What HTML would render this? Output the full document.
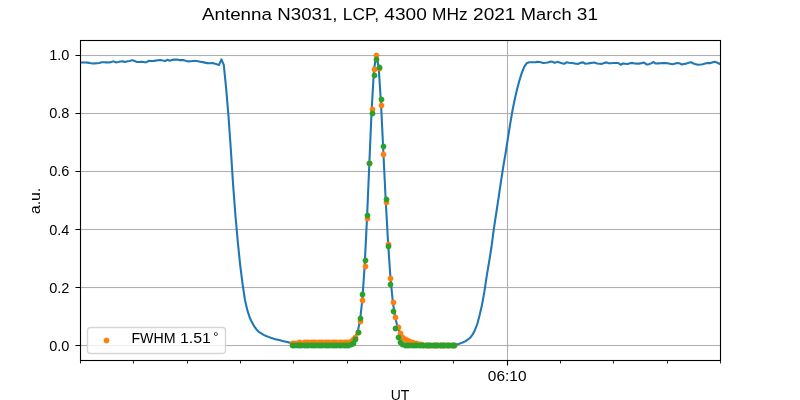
<!DOCTYPE html>
<html><head><meta charset="utf-8"><title>Antenna N3031</title>
<style>html,body{margin:0;padding:0;background:#fff;overflow:hidden}body{width:800px;height:400px}</style></head>
<body>
<svg width="800" height="400" viewBox="0 0 800 400" style="display:block;font-family:'Liberation Sans',sans-serif">
<defs><clipPath id="ax"><rect x="80" y="40" width="640" height="320"/></clipPath><polygon id="d" points="2.90,0.00 2.84,0.57 2.68,1.11 2.41,1.61 2.05,2.05 1.61,2.41 1.11,2.68 0.57,2.84 0.00,2.90 -0.57,2.84 -1.11,2.68 -1.61,2.41 -2.05,2.05 -2.41,1.61 -2.68,1.11 -2.84,0.57 -2.90,0.00 -2.84,-0.57 -2.68,-1.11 -2.41,-1.61 -2.05,-2.05 -1.61,-2.41 -1.11,-2.68 -0.57,-2.84 -0.00,-2.90 0.57,-2.84 1.11,-2.68 1.61,-2.41 2.05,-2.05 2.41,-1.61 2.68,-1.11 2.84,-0.57"/></defs>
<rect width="800" height="400" fill="#fff"/>
<g fill="#b0b0b0">
<rect x="506.9445" y="40" width="1.111" height="320"/>
<rect x="80" y="54.9445" width="640" height="1.111"/>
<rect x="80" y="112.9445" width="640" height="1.111"/>
<rect x="80" y="170.9445" width="640" height="1.111"/>
<rect x="80" y="228.9445" width="640" height="1.111"/>
<rect x="80" y="286.9445" width="640" height="1.111"/>
<rect x="80" y="344.9445" width="640" height="1.111"/>
</g>
<g clip-path="url(#ax)">
<polyline fill="none" stroke="#1f77b4" stroke-width="2.083" stroke-linejoin="round" stroke-linecap="butt" points="78.20,62.56 80.55,62.51 82.90,62.50 85.25,62.50 87.59,62.62 89.94,63.09 92.29,63.48 94.64,63.34 96.99,63.19 99.33,63.04 101.68,62.33 104.03,62.28 106.38,62.36 108.73,62.45 111.07,62.13 113.42,61.33 115.77,62.39 118.12,62.04 120.47,61.53 122.81,61.39 125.16,61.92 127.51,61.20 129.86,61.00 132.21,60.12 134.55,60.90 136.90,61.94 139.25,62.01 141.60,61.74 143.95,62.09 146.29,62.31 148.64,60.83 150.99,61.08 153.34,60.94 155.69,60.61 158.03,60.28 160.38,60.08 162.73,60.55 165.08,60.96 167.43,59.84 169.77,60.71 172.12,59.87 174.47,59.61 176.82,59.51 179.17,60.11 181.51,60.10 183.86,60.14 186.21,61.02 188.56,61.40 190.91,61.18 193.25,60.96 195.60,60.91 197.95,61.32 200.30,61.73 202.65,62.14 204.99,62.64 207.34,63.16 209.69,63.17 212.04,63.01 214.39,63.60 216.73,64.21 219.08,64.88 221.43,59.40 223.78,64.94 226.13,88.07 228.47,115.97 230.82,149.22 233.17,185.68 235.52,216.48 237.87,242.66 240.21,265.44 242.56,283.97 244.91,299.71 247.26,309.86 249.61,317.20 251.95,322.33 254.30,326.43 256.65,329.69 259.00,332.05 261.35,333.44 263.69,334.83 266.04,335.99 268.39,336.87 270.74,337.74 273.09,338.55 275.43,339.14 277.78,339.73 280.13,340.32 282.48,340.90 284.83,341.48 287.17,342.06 289.52,342.63 291.87,343.00 294.22,343.00 296.57,343.00 298.91,342.00 301.26,343.00 303.61,342.00 305.96,342.00 308.31,342.00 310.65,342.00 313.00,342.00 315.35,342.00 317.70,342.00 320.05,342.00 322.39,342.00 324.74,342.00 327.09,342.00 329.44,342.00 331.79,342.00 334.13,342.00 336.48,342.00 338.83,342.00 341.18,342.00 343.53,342.00 345.87,342.00 348.22,342.00 350.57,341.00 352.92,339.00 355.27,337.00 357.61,332.00 359.96,321.00 362.31,300.00 364.66,266.00 367.01,218.00 369.35,163.00 371.70,109.00 374.05,69.00 376.40,55.00 378.75,68.00 381.09,105.00 383.44,154.00 385.79,202.00 388.14,244.00 390.49,278.00 392.83,302.00 395.18,317.00 397.53,327.00 399.88,333.00 402.23,337.00 404.57,339.00 406.92,340.00 409.27,341.00 411.62,342.00 413.97,343.00 416.31,343.00 418.66,344.00 421.01,344.00 423.36,345.00 425.71,345.00 428.05,345.00 430.40,345.00 432.75,345.00 435.10,345.00 437.45,345.00 439.79,345.00 442.14,345.00 444.49,345.00 446.84,345.00 449.19,345.00 451.53,345.00 453.88,345.00 456.23,344.40 458.58,344.00 460.93,343.12 463.27,342.24 465.62,341.15 467.97,339.46 470.32,337.58 472.67,334.45 475.01,329.99 477.36,323.75 479.71,314.85 482.06,304.62 484.41,291.41 486.75,275.96 489.10,261.89 491.45,247.28 493.80,229.09 496.15,213.75 498.49,198.35 500.84,182.47 503.19,167.18 505.54,153.32 507.89,138.45 510.23,123.65 512.58,110.02 514.93,98.58 517.28,88.46 519.63,79.78 521.97,72.43 524.32,66.58 526.67,63.29 529.02,62.25 531.37,62.25 533.71,62.25 536.06,62.11 538.41,61.80 540.76,62.29 543.11,62.93 545.45,62.83 547.80,62.40 550.15,61.65 552.50,61.80 554.85,62.85 557.19,61.83 559.54,62.45 561.89,63.16 564.24,63.81 566.59,62.32 568.93,62.79 571.28,63.00 573.63,63.27 575.98,63.83 578.33,63.84 580.67,62.80 583.02,62.38 585.37,63.75 587.72,63.43 590.07,63.11 592.41,62.79 594.76,62.63 597.11,63.56 599.46,63.80 601.81,63.88 604.15,62.94 606.50,62.38 608.85,63.24 611.20,63.18 613.55,63.05 615.89,62.92 618.24,62.99 620.59,64.75 622.94,63.53 625.29,63.75 627.63,63.96 629.98,63.34 632.33,62.89 634.68,63.51 637.03,63.60 639.37,63.60 641.72,63.13 644.07,62.56 646.42,64.43 648.77,64.18 651.11,63.36 653.46,62.02 655.81,63.58 658.16,63.39 660.51,63.20 662.85,63.01 665.20,63.16 667.55,63.33 669.90,63.80 672.25,64.33 674.59,63.67 676.94,63.02 679.29,63.18 681.64,64.47 683.99,64.05 686.33,63.62 688.68,62.68 691.03,62.16 693.38,63.59 695.73,64.15 698.07,64.70 700.42,64.58 702.77,64.27 705.12,63.56 707.47,63.09 709.81,63.16 712.16,62.48 714.51,61.80 716.86,62.46 719.21,63.75 721.55,64.32 723.90,64.49"/>
<g fill="#ff7f0e">
<use href="#d" x="292.5" y="343.5"/>
<use href="#d" x="294.5" y="343.5"/>
<use href="#d" x="297.5" y="343.5"/>
<use href="#d" x="299.5" y="342.5"/>
<use href="#d" x="301.5" y="343.5"/>
<use href="#d" x="304.5" y="342.5"/>
<use href="#d" x="306.5" y="342.5"/>
<use href="#d" x="308.5" y="342.5"/>
<use href="#d" x="311.5" y="342.5"/>
<use href="#d" x="313.5" y="342.5"/>
<use href="#d" x="315.5" y="342.5"/>
<use href="#d" x="318.5" y="342.5"/>
<use href="#d" x="320.5" y="342.5"/>
<use href="#d" x="322.5" y="342.5"/>
<use href="#d" x="325.5" y="342.5"/>
<use href="#d" x="327.5" y="342.5"/>
<use href="#d" x="329.5" y="342.5"/>
<use href="#d" x="332.5" y="342.5"/>
<use href="#d" x="334.5" y="342.5"/>
<use href="#d" x="336.5" y="342.5"/>
<use href="#d" x="339.5" y="342.5"/>
<use href="#d" x="341.5" y="342.5"/>
<use href="#d" x="344.5" y="342.5"/>
<use href="#d" x="346.5" y="342.5"/>
<use href="#d" x="348.5" y="342.5"/>
<use href="#d" x="351.5" y="341.5"/>
<use href="#d" x="353.5" y="339.5"/>
<use href="#d" x="355.5" y="337.5"/>
<use href="#d" x="358.5" y="332.5"/>
<use href="#d" x="360.5" y="321.5"/>
<use href="#d" x="362.5" y="300.5"/>
<use href="#d" x="365.5" y="266.5"/>
<use href="#d" x="367.5" y="218.5"/>
<use href="#d" x="369.5" y="163.5"/>
<use href="#d" x="372.5" y="109.5"/>
<use href="#d" x="374.5" y="69.5"/>
<use href="#d" x="376.5" y="55.5"/>
<use href="#d" x="379.5" y="68.5"/>
<use href="#d" x="381.5" y="105.5"/>
<use href="#d" x="383.5" y="154.5"/>
<use href="#d" x="386.5" y="202.5"/>
<use href="#d" x="388.5" y="244.5"/>
<use href="#d" x="390.5" y="278.5"/>
<use href="#d" x="393.5" y="302.5"/>
<use href="#d" x="395.5" y="317.5"/>
<use href="#d" x="398.5" y="327.5"/>
<use href="#d" x="400.5" y="333.5"/>
<use href="#d" x="402.5" y="337.5"/>
<use href="#d" x="405.5" y="339.5"/>
<use href="#d" x="407.5" y="340.5"/>
<use href="#d" x="409.5" y="341.5"/>
<use href="#d" x="412.5" y="342.5"/>
<use href="#d" x="414.5" y="343.5"/>
<use href="#d" x="416.5" y="343.5"/>
<use href="#d" x="419.5" y="344.5"/>
<use href="#d" x="421.5" y="344.5"/>
<use href="#d" x="423.5" y="345.5"/>
<use href="#d" x="426.5" y="345.5"/>
<use href="#d" x="428.5" y="345.5"/>
<use href="#d" x="430.5" y="345.5"/>
<use href="#d" x="433.5" y="345.5"/>
<use href="#d" x="435.5" y="345.5"/>
<use href="#d" x="437.5" y="345.5"/>
<use href="#d" x="440.5" y="345.5"/>
<use href="#d" x="442.5" y="345.5"/>
<use href="#d" x="444.5" y="345.5"/>
<use href="#d" x="447.5" y="345.5"/>
<use href="#d" x="449.5" y="345.5"/>
<use href="#d" x="452.5" y="345.5"/>
<use href="#d" x="454.5" y="345.5"/>
</g><g fill="#2ca02c">
<use href="#d" x="292.5" y="345.5"/>
<use href="#d" x="294.5" y="345.5"/>
<use href="#d" x="297.5" y="345.5"/>
<use href="#d" x="299.5" y="345.5"/>
<use href="#d" x="301.5" y="345.5"/>
<use href="#d" x="304.5" y="345.5"/>
<use href="#d" x="306.5" y="345.5"/>
<use href="#d" x="308.5" y="345.5"/>
<use href="#d" x="311.5" y="345.5"/>
<use href="#d" x="313.5" y="345.5"/>
<use href="#d" x="315.5" y="345.5"/>
<use href="#d" x="318.5" y="345.5"/>
<use href="#d" x="320.5" y="345.5"/>
<use href="#d" x="322.5" y="345.5"/>
<use href="#d" x="325.5" y="345.5"/>
<use href="#d" x="327.5" y="345.5"/>
<use href="#d" x="329.5" y="345.5"/>
<use href="#d" x="332.5" y="345.5"/>
<use href="#d" x="334.5" y="345.5"/>
<use href="#d" x="336.5" y="345.5"/>
<use href="#d" x="339.5" y="345.5"/>
<use href="#d" x="341.5" y="345.5"/>
<use href="#d" x="344.5" y="345.5"/>
<use href="#d" x="346.5" y="345.5"/>
<use href="#d" x="348.5" y="345.5"/>
<use href="#d" x="351.5" y="344.5"/>
<use href="#d" x="353.5" y="343.5"/>
<use href="#d" x="355.5" y="339.5"/>
<use href="#d" x="358.5" y="332.5"/>
<use href="#d" x="360.5" y="318.5"/>
<use href="#d" x="362.5" y="294.5"/>
<use href="#d" x="365.5" y="260.5"/>
<use href="#d" x="367.5" y="215.5"/>
<use href="#d" x="369.5" y="163.5"/>
<use href="#d" x="372.5" y="113.5"/>
<use href="#d" x="374.5" y="75.5"/>
<use href="#d" x="376.5" y="59.5"/>
<use href="#d" x="379.5" y="67.5"/>
<use href="#d" x="381.5" y="99.5"/>
<use href="#d" x="383.5" y="146.5"/>
<use href="#d" x="386.5" y="199.5"/>
<use href="#d" x="388.5" y="246.5"/>
<use href="#d" x="390.5" y="284.5"/>
<use href="#d" x="393.5" y="311.5"/>
<use href="#d" x="395.5" y="328.5"/>
<use href="#d" x="398.5" y="337.5"/>
<use href="#d" x="400.5" y="342.5"/>
<use href="#d" x="402.5" y="344.5"/>
<use href="#d" x="405.5" y="345.5"/>
<use href="#d" x="407.5" y="345.5"/>
<use href="#d" x="409.5" y="345.5"/>
<use href="#d" x="412.5" y="345.5"/>
<use href="#d" x="414.5" y="345.5"/>
<use href="#d" x="416.5" y="345.5"/>
<use href="#d" x="419.5" y="345.5"/>
<use href="#d" x="421.5" y="345.5"/>
<use href="#d" x="423.5" y="345.5"/>
<use href="#d" x="426.5" y="345.5"/>
<use href="#d" x="428.5" y="345.5"/>
<use href="#d" x="430.5" y="345.5"/>
<use href="#d" x="433.5" y="345.5"/>
<use href="#d" x="435.5" y="345.5"/>
<use href="#d" x="437.5" y="345.5"/>
<use href="#d" x="440.5" y="345.5"/>
<use href="#d" x="442.5" y="345.5"/>
<use href="#d" x="444.5" y="345.5"/>
<use href="#d" x="447.5" y="345.5"/>
<use href="#d" x="449.5" y="345.5"/>
<use href="#d" x="452.5" y="345.5"/>
<use href="#d" x="454.5" y="345.5"/>
</g></g>
<g stroke="#000" fill="none">
<path stroke-width="1.111" d="M507.5 360.5V365.5M80.5 55.5H75.5M80.5 113.5H75.5M80.5 171.5H75.5M80.5 229.5H75.5M80.5 287.5H75.5M80.5 345.5H75.5"/>
<path stroke-width="0.833" d="M80.5 360.5V363.5M133.5 360.5V363.5M187.5 360.5V363.5M240.5 360.5V363.5M293.5 360.5V363.5M347.5 360.5V363.5M400.5 360.5V363.5M453.5 360.5V363.5M560.5 360.5V363.5M613.5 360.5V363.5M667.5 360.5V363.5M720.5 360.5V363.5"/>
<rect x="80.5" y="40.5" width="640" height="320" stroke-width="1.111"/>
</g>
<rect x="87.5" y="327.5" width="138" height="26" rx="3.2" ry="3.2" fill="#fff" fill-opacity="0.8" stroke="#ccc" stroke-opacity="0.8" stroke-width="1.389"/>
<use href="#d" x="106.5" y="340.5" fill="#ff7f0e"/>
<g fill="#000" style="will-change:transform">
<text x="49.19" y="60.00" font-size="14.25" textLength="20.19" lengthAdjust="spacingAndGlyphs">1.0</text>
<text x="49.19" y="118.00" font-size="14.25" textLength="20.19" lengthAdjust="spacingAndGlyphs">0.8</text>
<text x="49.19" y="176.00" font-size="14.25" textLength="20.19" lengthAdjust="spacingAndGlyphs">0.6</text>
<text x="49.19" y="235.00" font-size="14.25" textLength="20.19" lengthAdjust="spacingAndGlyphs">0.4</text>
<text x="49.19" y="293.00" font-size="14.25" textLength="20.19" lengthAdjust="spacingAndGlyphs">0.2</text>
<text x="49.19" y="351.00" font-size="14.25" textLength="20.19" lengthAdjust="spacingAndGlyphs">0.0</text>
<text x="487.86" y="381.00" font-size="14.25" textLength="38.63" lengthAdjust="spacingAndGlyphs">06:10</text>
<text x="390.68" y="400.10" font-size="14.25" textLength="18.65" lengthAdjust="spacingAndGlyphs">UT</text>
<text y="19.50" font-size="17.1"><tspan x="201.93" textLength="70.09" lengthAdjust="spacingAndGlyphs">Antenna</tspan> <tspan x="277.32" textLength="60.18" lengthAdjust="spacingAndGlyphs">N3031,</tspan> <tspan x="342.80" textLength="36.27" lengthAdjust="spacingAndGlyphs">LCP,</tspan> <tspan x="384.37" textLength="42.42" lengthAdjust="spacingAndGlyphs">4300</tspan> <tspan x="432.08" textLength="35.66" lengthAdjust="spacingAndGlyphs">MHz</tspan> <tspan x="473.04" textLength="42.42" lengthAdjust="spacingAndGlyphs">2021</tspan> <tspan x="520.76" textLength="50.81" lengthAdjust="spacingAndGlyphs">March</tspan> <tspan x="576.86" textLength="21.21" lengthAdjust="spacingAndGlyphs">31</tspan></text>
<text y="343.00" font-size="14.25"><tspan x="131.39" textLength="44.15" lengthAdjust="spacingAndGlyphs">FWHM</tspan> <tspan x="179.95" textLength="30.92" lengthAdjust="spacingAndGlyphs">1.51</tspan></text>
<text x="213.35" y="341.4" font-size="13">°</text>
<text transform="translate(40,214.07) rotate(-90)" x="0" y="0" font-size="14.25" textLength="26.14" lengthAdjust="spacingAndGlyphs">a.u.</text>
</g>
</svg>
</body></html>
